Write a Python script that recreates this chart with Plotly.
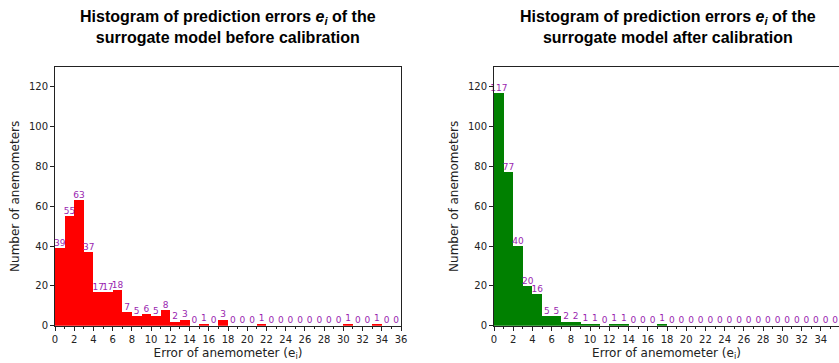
import plotly.graph_objects as go

# Data: counts per 1-unit bin, error 0..36
bin_edges = list(range(0, 37))
before_counts = [39, 55, 63, 37, 17, 17, 18, 7, 5, 6, 5, 8, 2, 3, 0, 1, 0, 3,
                 0, 0, 0, 1, 0, 0, 0, 0, 0, 0, 0, 0, 1, 0, 0, 1, 0, 0]
after_counts = [117, 77, 40, 20, 16, 5, 5, 2, 2, 1, 1, 0, 1, 1, 0, 0, 0, 1,
                0, 0, 0, 0, 0, 0, 0, 0, 0, 0, 0, 0, 0, 0, 0, 0, 0, 0]
titles = ["Histogram of prediction errors <i>e<sub>i</sub></i> of the<br>surrogate model before calibration",
          "Histogram of prediction errors <i>e<sub>i</sub></i> of the<br>surrogate model after calibration"]
x_ticks = list(range(0, 37, 2))
y_ticks = list(range(0, 121, 20))

W, H = 839, 363
centers = [(a + b) / 2 for a, b in zip(bin_edges[:-1], bin_edges[1:])]

fig = go.Figure()
label_color = "#9a1fb0"
tick_font = dict(family="DejaVu Sans", size=10, color="#222")

for i, (counts, color) in enumerate([(before_counts, "#ff0000"), (after_counts, "#008000")]):
    xa = "x" if i == 0 else "x2"
    ya = "y" if i == 0 else "y2"
    fig.add_trace(go.Bar(x=centers, y=counts, width=1, marker=dict(color=color, line=dict(width=0)),
                         xaxis=xa, yaxis=ya, showlegend=False))
    fig.add_trace(go.Scatter(x=centers, y=counts, mode="text", text=[str(c) for c in counts],
                             textposition="top center",
                             textfont=dict(family="DejaVu Sans", size=9, color=label_color),
                             xaxis=xa, yaxis=ya, showlegend=False, cliponaxis=False))

ydom = [(H - 325.7) / H, (H - 67) / H]
left_dom = [55 / W, 401 / W]
right_dom = [494 / W, 1.0]
right_end = (839 - 494) / (346 / 36)

common_x = dict(tickmode="array", tickvals=x_ticks, ticks="outside", ticklen=4, tickcolor="#222",
                showline=True, linecolor="#222", linewidth=1, mirror=True, showgrid=False,
                zeroline=False, tickfont=tick_font, automargin=False,
                minor=dict(ticks="outside", ticklen=2.5, dtick=1, tick0=0, tickcolor="#222"),
                title=dict(text="Error of anemometer (e<sub>i</sub>)",
                           font=dict(family="DejaVu Sans", size=12, color="#222"), standoff=4))
common_y = dict(tickmode="array", tickvals=y_ticks, ticks="outside", ticklen=4, tickcolor="#222",
                showline=True, linecolor="#222", linewidth=1, showgrid=False, zeroline=False,
                tickfont=tick_font, range=[0, 130], automargin=False,
                title=dict(text="Number of anemometers",
                           font=dict(family="DejaVu Sans", size=12, color="#222"), standoff=6))

fig.update_layout(
    width=W, height=H, margin=dict(l=0, r=0, t=0, b=0),
    plot_bgcolor="white", paper_bgcolor="white", bargap=0,
    xaxis=dict(domain=left_dom, range=[0, 36], anchor="y", **common_x),
    yaxis=dict(domain=ydom, anchor="x", mirror=True, **common_y),
    xaxis2=dict(domain=right_dom, range=[0, right_end], anchor="y2", **common_x),
    yaxis2=dict(domain=ydom, anchor="x2", mirror=False, **common_y),
)

for i, t in enumerate(titles):
    dom = left_dom if i == 0 else [494 / W, (494 + 348) / W]
    fig.add_annotation(text="<b>" + t + "</b>", x=(dom[0] + dom[1]) / 2, y=(H - 27) / H,
                       xref="paper", yref="paper", showarrow=False, xanchor="center", yanchor="middle",
                       font=dict(family="Liberation Sans", size=16, color="#000"))

fig.write_html("out.html")
